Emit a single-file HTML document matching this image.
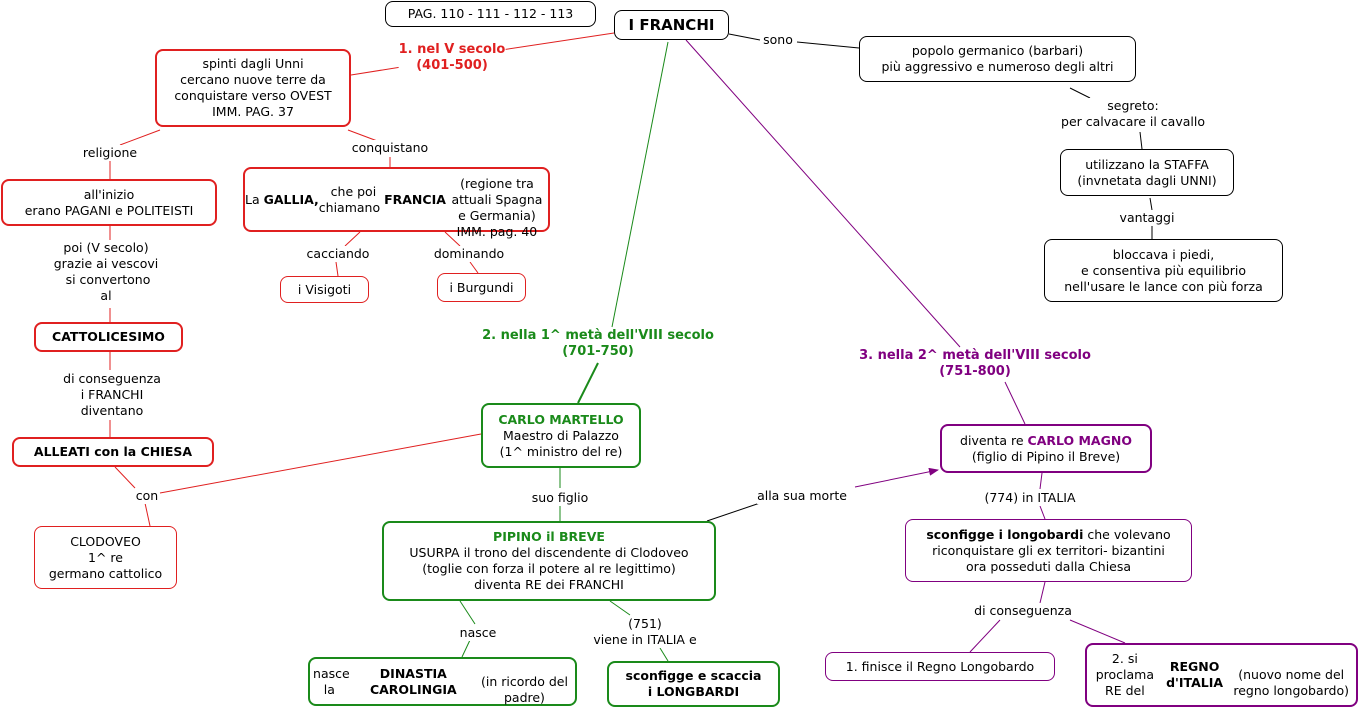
<!DOCTYPE html>
<html><head><meta charset="utf-8"><style>
body{margin:0;width:1361px;height:711px;background:#fff;position:relative;overflow:hidden;font-family:"DejaVu Sans","Liberation Sans",sans-serif;font-size:12.5px;color:#000}
.b{position:absolute;box-sizing:border-box;background:#fff;border-radius:8px;display:flex;align-items:center;justify-content:center;text-align:center;line-height:16px}
.l{position:absolute;text-align:center;line-height:16px;transform:translateX(-50%);white-space:nowrap;background:#fff}
.r2{border:2px solid #e02020}.r1{border:1px solid #e02020}
.g2{border:2px solid #1a8a1a}.p2{border:2px solid #800080}.p1{border:1px solid #800080}
.k{border:1px solid #000}
svg{position:absolute;left:0;top:0}
</style></head><body>
<svg width="1361" height="711">
<defs><marker id="a" markerWidth="10" markerHeight="8" refX="9" refY="4" orient="auto"><path d="M0,0L10,4L0,8z" fill="#800080"/></marker></defs>
<g stroke="#e02020" stroke-width="1" fill="none">
<line x1="614" y1="33" x2="488" y2="52"/><line x1="420" y1="64" x2="351" y2="75"/>
<line x1="160" y1="130" x2="120" y2="145"/><line x1="110" y1="160" x2="110" y2="179"/>
<line x1="348" y1="130" x2="380" y2="142"/><line x1="390" y1="157" x2="390" y2="167"/>
<line x1="110" y1="226" x2="110" y2="240"/><line x1="110" y1="308" x2="110" y2="322"/>
<line x1="110" y1="352" x2="110" y2="370"/><line x1="110" y1="420" x2="110" y2="437"/>
<line x1="115" y1="467" x2="135" y2="488"/><line x1="145" y1="503" x2="150" y2="526"/>
<line x1="481" y1="434" x2="160" y2="493"/>
<line x1="360" y1="232" x2="345" y2="246"/><line x1="336" y1="262" x2="338" y2="276"/>
<line x1="445" y1="232" x2="460" y2="246"/><line x1="470" y1="262" x2="478" y2="273"/>
</g>
<g stroke="#1a8a1a" fill="none">
<line x1="668" y1="42" x2="612" y2="327"/><line x1="598" y1="363" x2="578" y2="403" stroke-width="2"/>
<line x1="560" y1="468" x2="560" y2="488"/><line x1="560" y1="505" x2="560" y2="521"/>
<line x1="460" y1="601" x2="475" y2="624"/><line x1="470" y1="640" x2="462" y2="657"/>
<line x1="610" y1="601" x2="630" y2="615"/><line x1="660" y1="648" x2="668" y2="661"/>
</g>
<g stroke="#000" fill="none">
<line x1="729" y1="34" x2="760" y2="40"/><line x1="797" y1="42" x2="859" y2="48"/>
<line x1="1070" y1="88" x2="1090" y2="98"/><line x1="1140" y1="132" x2="1142" y2="149"/>
<line x1="1150" y1="198" x2="1152" y2="210"/><line x1="1152" y1="226" x2="1152" y2="239"/>
<line x1="707" y1="521" x2="760" y2="503"/>
</g>
<g stroke="#800080" fill="none">
<line x1="855" y1="487" x2="938" y2="470" marker-end="url(#a)"/>
<line x1="686" y1="40" x2="960" y2="347"/><line x1="1005" y1="382" x2="1025" y2="424"/>
<line x1="1042" y1="473" x2="1040" y2="489"/><line x1="1040" y1="506" x2="1045" y2="519"/>
<line x1="1045" y1="582" x2="1040" y2="603"/><line x1="1000" y1="620" x2="970" y2="652"/>
<line x1="1070" y1="620" x2="1125" y2="643"/>
</g>
</svg>
<div class="b k" style="left:385px;top:1px;width:211px;height:26px">PAG. 110 - 111 - 112 - 113</div>
<div class="b k" style="left:614px;top:10px;width:115px;height:30px;font-weight:bold;font-size:15px">I FRANCHI</div>
<div class="l" style="left:452px;top:42px;color:#e02020;font-weight:bold;font-size:13px">1. nel V secolo<br>(401-500)</div>
<div class="b r2" style="left:155px;top:49px;width:196px;height:78px">spinti dagli Unni<br>cercano nuove terre da<br>conquistare verso OVEST<br>IMM. PAG. 37</div>
<div class="l" style="left:778px;top:32px">sono</div>
<div class="b k" style="left:859px;top:36px;width:277px;height:46px">popolo germanico (barbari)<br>più aggressivo e numeroso degli altri</div>
<div class="l" style="left:1133px;top:98px">segreto:<br>per calvacare il cavallo</div>
<div class="b k" style="left:1060px;top:149px;width:174px;height:47px">utilizzano la STAFFA<br>(invnetata dagli UNNI)</div>
<div class="l" style="left:1147px;top:210px">vantaggi</div>
<div class="b k" style="left:1044px;top:239px;width:239px;height:63px">bloccava i piedi,<br>e consentiva più equilibrio<br>nell'usare le lance con più forza</div>
<div class="l" style="left:110px;top:145px">religione</div>
<div class="l" style="left:390px;top:140px">conquistano</div>
<div class="b r2" style="left:1px;top:179px;width:216px;height:47px">all'inizio<br>erano PAGANI e POLITEISTI</div>
<div class="b r2" style="left:243px;top:167px;width:307px;height:65px">La&nbsp;<b>GALLIA,</b>&nbsp;che poi chiamano&nbsp;<b>FRANCIA</b><br>(regione tra attuali Spagna e Germania)<br>IMM. pag. 40</div>
<div class="l" style="left:106px;top:240px">poi (V secolo)<br>grazie ai vescovi<br>&nbsp;si convertono<br>al</div>
<div class="l" style="left:338px;top:246px">cacciando</div>
<div class="l" style="left:469px;top:246px">dominando</div>
<div class="b r1" style="left:280px;top:276px;width:89px;height:27px">i Visigoti</div>
<div class="b r1" style="left:437px;top:273px;width:89px;height:29px">i Burgundi</div>
<div class="b r2" style="left:34px;top:322px;width:149px;height:30px;font-weight:bold">CATTOLICESIMO</div>
<div class="l" style="left:112px;top:371px">di conseguenza<br>i FRANCHI<br>diventano</div>
<div class="b r2" style="left:12px;top:437px;width:202px;height:30px;font-weight:bold">ALLEATI con la CHIESA</div>
<div class="l" style="left:147px;top:488px">con</div>
<div class="b r1" style="left:34px;top:526px;width:143px;height:63px">CLODOVEO<br>1^ re<br>germano cattolico</div>
<div class="l" style="left:598px;top:328px;color:#1a8a1a;font-weight:bold;font-size:13px">2. nella 1^ metà dell'VIII secolo<br>(701-750)</div>
<div class="b g2" style="left:481px;top:403px;width:160px;height:65px"><div><b style="color:#1a8a1a">CARLO MARTELLO</b><br>Maestro di Palazzo<br>(1^ ministro del re)</div></div>
<div class="l" style="left:560px;top:490px">suo figlio</div>
<div class="b g2" style="left:382px;top:521px;width:334px;height:80px"><div><b style="color:#1a8a1a">PIPINO il BREVE</b><br>USURPA il trono del discendente di Clodoveo<br>(toglie con forza il potere al re legittimo)<br>diventa RE dei FRANCHI</div></div>
<div class="l" style="left:802px;top:488px">alla sua morte</div>
<div class="l" style="left:478px;top:625px">nasce</div>
<div class="l" style="left:645px;top:616px">(751)<br>viene in ITALIA e</div>
<div class="b g2" style="left:308px;top:657px;width:269px;height:49px">nasce la&nbsp;<b>DINASTIA CAROLINGIA</b><br>(in ricordo del padre)</div>
<div class="b g2" style="left:607px;top:661px;width:173px;height:46px;font-weight:bold">sconfigge e scaccia<br>i LONGBARDI</div>
<div class="l" style="left:975px;top:348px;color:#800080;font-weight:bold;font-size:13px">3. nella 2^ metà dell'VIII secolo<br>(751-800)</div>
<div class="b p2" style="left:940px;top:424px;width:212px;height:49px"><div>diventa re <b style="color:#800080">CARLO MAGNO</b><br>(figlio di Pipino il Breve)</div></div>
<div class="l" style="left:1030px;top:490px">(774) in ITALIA</div>
<div class="b p1" style="left:905px;top:519px;width:287px;height:63px"><div><b>sconfigge i longobardi</b> che volevano<br>riconquistare gli ex territori- bizantini<br>ora posseduti dalla Chiesa</div></div>
<div class="l" style="left:1023px;top:603px">di conseguenza</div>
<div class="b p1" style="left:825px;top:652px;width:230px;height:29px">1. finisce il Regno Longobardo</div>
<div class="b p2" style="left:1085px;top:643px;width:273px;height:64px">2. si proclama RE del<br><b>REGNO d'ITALIA</b><br>(nuovo nome del regno longobardo)</div>
</body></html>
